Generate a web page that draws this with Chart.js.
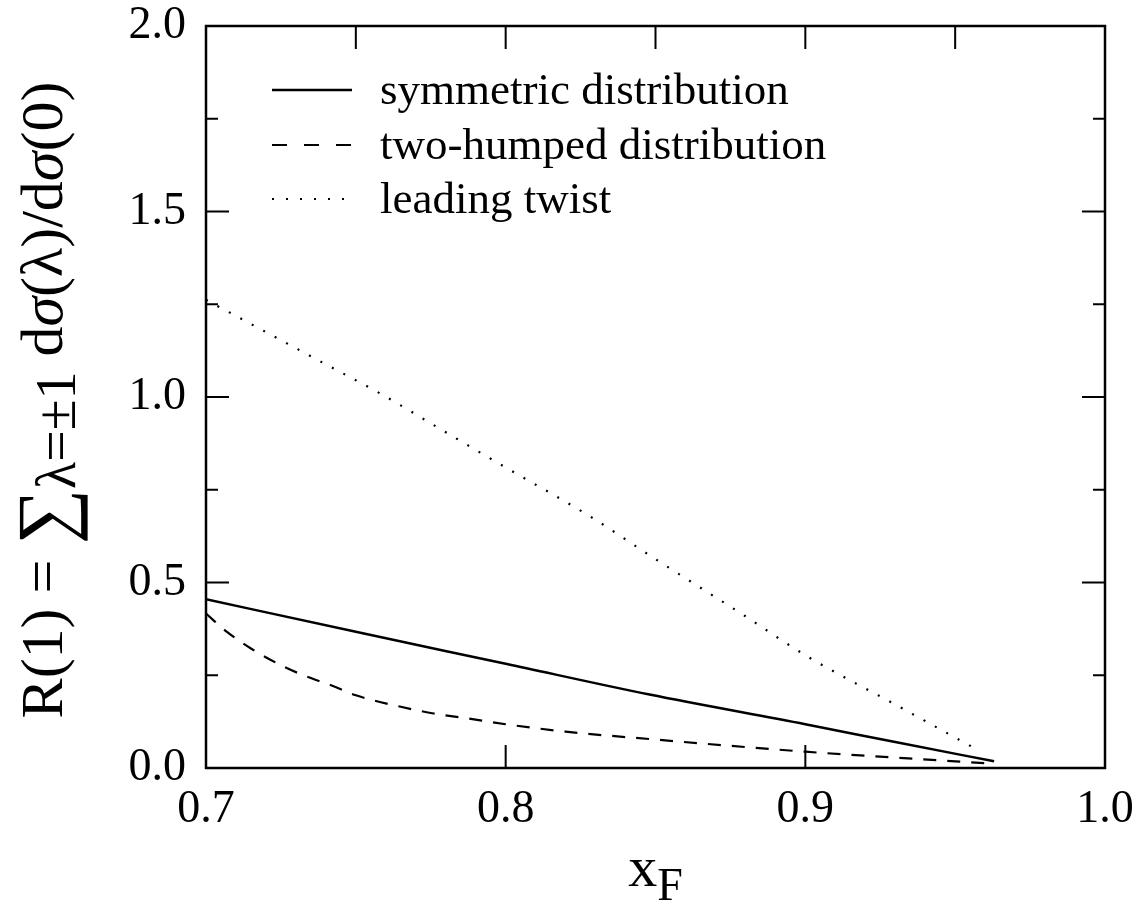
<!DOCTYPE html>
<html>
<head>
<meta charset="utf-8">
<script src="https://cdn.jsdelivr.net/npm/chart.js@4.4.1/dist/chart.umd.min.js"></script>
<style>
  html, body { margin: 0; padding: 0; background: #fff; }
  #wrap { width: 1138px; height: 918px; }
</style>
</head>
<body>
<div id="wrap"><canvas id="c" width="1138" height="918"></canvas></div>
<script>
// ---- data ----
const symX = [0.700, 0.750, 0.800, 0.848, 0.900, 0.930, 0.963];
const symY = [0.455, 0.367, 0.281, 0.198, 0.118, 0.070, 0.018];

const humpX = [0.700, 0.707, 0.715, 0.726, 0.731, 0.743, 0.750, 0.765, 0.776, 0.787, 0.800, 0.820, 0.848, 0.900, 0.930, 0.960];
const humpY = [0.416, 0.367, 0.322, 0.273, 0.255, 0.219, 0.196, 0.165, 0.147, 0.134, 0.118, 0.098, 0.078, 0.044, 0.028, 0.013];

const twistX = [0.700, 0.720, 0.740, 0.758, 0.780, 0.800, 0.828, 0.850, 0.880, 0.900, 0.930, 0.957];
const twistY = [1.262, 1.175, 1.088, 1.010, 0.905, 0.810, 0.679, 0.563, 0.409, 0.304, 0.171, 0.051];

const seriesNames = ["symmetric distribution", "two-humped distribution", "leading twist"];

const xTickLabels = [0.7, 0.8, 0.9, 1.0];
const yTickLabels = [0.0, 0.5, 1.0, 1.5, 2.0];
const yMinorTicks = [0.25, 0.75, 1.25, 1.75];
const xBottomTicks = [0.8, 0.9];
const xTopTicks = [0.75, 0.8, 0.85, 0.9, 0.95];

function pts(xs, ys) { return xs.map((x, i) => ({ x: x, y: ys[i] })); }

const SERIF = '"Liberation Serif", "DejaVu Serif", serif';

const framePlugin = {
  id: 'frame',
  afterDraw(chart) {
    const ctx = chart.ctx;
    const a = chart.chartArea;
    const xs = chart.scales.x, ys = chart.scales.y;
    ctx.save();
    ctx.strokeStyle = '#000';
    ctx.lineWidth = 2.5;
    ctx.strokeRect(a.left, a.top, a.right - a.left, a.bottom - a.top);
    ctx.lineWidth = 2;
    ctx.beginPath();
    const major = 23, minor = 12;
    yTickLabels.forEach(v => {
      if (v <= ys.min || v >= ys.max) return;
      const p = ys.getPixelForValue(v);
      ctx.moveTo(a.left, p); ctx.lineTo(a.left + major, p);
      ctx.moveTo(a.right, p); ctx.lineTo(a.right - major, p);
    });
    yMinorTicks.forEach(v => {
      const p = ys.getPixelForValue(v);
      ctx.moveTo(a.left, p); ctx.lineTo(a.left + minor, p);
      ctx.moveTo(a.right, p); ctx.lineTo(a.right - minor, p);
    });
    xBottomTicks.forEach(v => {
      const p = xs.getPixelForValue(v);
      ctx.moveTo(p, a.bottom); ctx.lineTo(p, a.bottom - major);
    });
    xTopTicks.forEach(v => {
      const p = xs.getPixelForValue(v);
      ctx.moveTo(p, a.top); ctx.lineTo(p, a.top + major);
    });
    ctx.stroke();

    // legend
    const rowsY = [90, 145, 199];
    chart.data.datasets.forEach((ds, i) => {
      const y = rowsY[i];
      ctx.beginPath();
      ctx.setLineDash(ds.legendDash || ds.borderDash || []);
      ctx.lineWidth = ds.borderWidth;
      ctx.moveTo(272, y); ctx.lineTo(352, y);
      ctx.stroke();
      ctx.setLineDash([]);
      ctx.fillStyle = '#000';
      ctx.font = '45px ' + SERIF;
      ctx.textBaseline = 'middle';
      ctx.textAlign = 'left';
      ctx.fillText(ds.label, 380, y + 2);
    });

    // titles with sub-scripts
    function rich(parts) {
      let w = 0;
      parts.forEach(p => {
        ctx.font = (p.italic ? 'italic ' : '') + p.size + 'px ' + SERIF;
        p.w = ctx.measureText(p.t).width; w += p.w;
      });
      return w;
    }
    function drawRich(parts, x0) {
      let x = x0;
      ctx.textBaseline = 'alphabetic';
      ctx.textAlign = 'left';
      parts.forEach(p => {
        ctx.font = (p.italic ? 'italic ' : '') + p.size + 'px ' + SERIF;
        ctx.fillText(p.t, x, p.dy || 0);
        x += p.w;
      });
    }
    const yParts = [
      { t: 'R(1) = ', size: 60 },
      { t: '\u2211', size: 78, dy: 9 },
      { t: '\u03BB=\u00B11', size: 56, dy: 13 },
      { t: ' d', size: 60 },
      { t: '\u03C3', size: 60, italic: true },
      { t: '(\u03BB)/d', size: 60 },
      { t: '\u03C3', size: 60, italic: true },
      { t: '(0)', size: 60 }
    ];
    const wy = rich(yParts);
    ctx.save();
    ctx.translate(62, 400);
    ctx.rotate(-Math.PI / 2);
    drawRich(yParts, -wy / 2);
    ctx.restore();

    const xParts = [
      { t: 'x', size: 58 },
      { t: 'F', size: 46, dy: 14 }
    ];
    const wx = rich(xParts);
    ctx.save();
    ctx.translate((a.left + a.right) / 2, 886);
    drawRich(xParts, -wx / 2);
    ctx.restore();
    ctx.restore();
  }
};

new Chart(document.getElementById('c'), {
  type: 'line',
  data: {
    datasets: [
      { label: seriesNames[0], data: pts(symX, symY), borderColor: '#000', borderWidth: 2.5, pointRadius: 0, cubicInterpolationMode: 'monotone', fill: false },
      { label: seriesNames[1], data: pts(humpX, humpY), borderColor: '#000', borderWidth: 2.2, borderDash: [13, 11], legendDash: [15, 17], pointRadius: 0, cubicInterpolationMode: 'monotone', fill: false },
      { label: seriesNames[2], data: pts(twistX, twistY), borderColor: '#000', borderWidth: 2.2, borderDash: [2, 11], legendDash: [2, 12], pointRadius: 0, cubicInterpolationMode: 'monotone', fill: false }
    ]
  },
  options: {
    responsive: false,
    animation: false,
    devicePixelRatio: 1,
    layout: { padding: { left: 0, top: 26, right: 33, bottom: 0 } },
    plugins: { legend: { display: false }, tooltip: { enabled: false } },
    scales: {
      x: {
        type: 'linear', min: 0.7, max: 1.0,
        grid: { display: false, drawTicks: false },
        border: { display: false },
        afterFit(s) { s.height = 150; s.paddingLeft = 0; s.paddingRight = 0; },
        afterBuildTicks(s) { s.ticks = xTickLabels.map(v => ({ value: v })); },
        ticks: { color: '#000', padding: 14, maxRotation: 0, font: { family: SERIF, size: 46 }, callback: v => Number(v).toFixed(1) }
      },
      y: {
        type: 'linear', min: 0, max: 2.0,
        grid: { display: false, drawTicks: false },
        border: { display: false },
        afterFit(s) { s.width = 206; s.paddingTop = 0; s.paddingBottom = 0; },
        afterBuildTicks(s) { s.ticks = yTickLabels.map(v => ({ value: v })); },
        ticks: { color: '#000', padding: 20, font: { family: SERIF, size: 46 }, callback: v => Number(v).toFixed(1) }
      }
    }
  },
  plugins: [framePlugin]
});
</script>
</body>
</html>
